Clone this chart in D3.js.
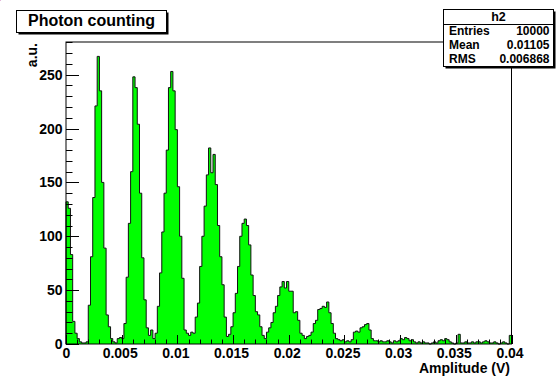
<!DOCTYPE html>
<html><head><meta charset="utf-8">
<script src="https://cdn.jsdelivr.net/npm/d3@7"></script>
<style>
body{margin:0;background:#fff;}
svg{display:block;}
text{font-family:"Liberation Sans",Arial,Helvetica,sans-serif;font-weight:bold;}
</style></head>
<body>
<script>
// ---- data ----
const xRange = [0, 0.04];
const nBins = 200;
const counts = [
132,126,83,21,10,5,2,1,1,2,
36,81,136,221,267,235,150,89,27,16,
5,2,1,5,6,5,19,62,112,160,
248,238,204,140,80,41,15,8,13,5,
10,35,66,104,140,180,238,253,235,199,
146,100,61,13,10,8,11,10,25,38,
72,100,128,157,182,159,176,148,110,81,
55,25,7,9,16,29,47,72,100,112,
116,110,92,64,45,30,27,16,8,5,
11,15,20,29,35,45,53,58,52,58,
49,49,29,30,22,10,8,5,7,8,
11,19,22,32,33,35,34,39,29,19,
10,5,4,3,4,2,3,2,4,11,
12,11,15,16,18,19,13,5,3,3,
2,3,2,2,3,2,1,3,2,3,
5,4,6,5,3,4,2,1,2,1,
2,1,1,0,1,2,1,3,4,3,
5,4,2,1,0,1,9,1,1,2,
1,1,2,1,2,2,1,2,3,2,
1,1,2,1,0,1,2,1,0,8
];
const yTicksMajor = [0, 50, 100, 150, 200, 250];
const xTicksMajor = [0, 0.005, 0.01, 0.015, 0.02, 0.025, 0.03, 0.035, 0.04];
const xTickLabels = ["0", "0.005", "0.01", "0.015", "0.02", "0.025", "0.03", "0.035", "0.04"];
const histTitle = "Photon counting";
const statsName = "h2";
const statsRows = [["Entries", "10000"], ["Mean", "0.01105"], ["RMS", "0.006868"]];
const xTitle = "Amplitude (V)";
const yTitle = "a.u.";

// ---- layout ----
const W = 556, H = 376;
const L = 66, R = 511.5, T = 42, B = 344;
const yMax = 280.35;

const svg = d3.select("body").append("svg").attr("width", W).attr("height", H);

// slide title remnants (clipped at top)
svg.append("text").attr("x", -4).attr("y", -6).attr("font-size", 34).attr("font-style", "italic")
  .attr("fill", "#d01818").text("y");
svg.append("text").attr("x", 333).attr("y", -7).attr("font-size", 34).attr("font-style", "italic")
  .attr("fill", "#d01818").text("g");

const x = d3.scaleLinear().domain(xRange).range([L, R]);
const y = d3.scaleLinear().domain([0, yMax]).range([B, T]);

const bw = (xRange[1] - xRange[0]) / nBins;
const pts = counts.map((c, i) => [xRange[0] + i * bw, c]);
pts.push([xRange[1], counts[counts.length - 1]]);

const area = d3.area().x(d => x(d[0])).y0(y(0)).y1(d => y(d[1])).curve(d3.curveStepAfter);
svg.append("path").attr("d", area(pts)).attr("fill", "#00ff00");

const linePts = [[xRange[0], 0]].concat(pts).concat([[xRange[1], 0]]);
const line = d3.line().x(d => x(d[0])).y(d => y(d[1])).curve(d3.curveStepAfter);
svg.append("path").attr("d", line(linePts)).attr("fill", "none").attr("stroke", "#111").attr("stroke-width", 1);

// frame
svg.append("rect").attr("x", L).attr("y", T).attr("width", R - L).attr("height", B - T)
  .attr("fill", "none").attr("stroke", "#000").attr("stroke-width", 1);

// y axis ticks
const yMinor = d3.range(0, yMax, 10);
svg.append("g").selectAll("line").data(yMinor).join("line")
  .attr("x1", L).attr("x2", d => L + (d % 50 === 0 ? 13 : 6.5))
  .attr("y1", d => Math.round(y(d)) + 0.5).attr("y2", d => Math.round(y(d)) + 0.5)
  .attr("stroke", "#000").attr("stroke-width", 1);
svg.append("g").selectAll("text").data(yTicksMajor).join("text")
  .attr("x", 62.5).attr("y", d => y(d) + 5).attr("text-anchor", "end").attr("font-size", 14)
  .text(d => d);

// x axis ticks
const xMinor = d3.range(0, 41).map(i => i * 0.001);
svg.append("g").selectAll("line").data(xMinor).join("line")
  .attr("x1", d => Math.round(x(d)) + 0.5).attr("x2", d => Math.round(x(d)) + 0.5)
  .attr("y1", B).attr("y2", (d, i) => B - (i % 5 === 0 ? 9 : 4.5))
  .attr("stroke", "#000").attr("stroke-width", 1);
svg.append("g").selectAll("text").data(xTicksMajor).join("text")
  .attr("x", d => x(d) - 1.5 + (d === 0 ? 2 : 0)).attr("y", 358).attr("text-anchor", "middle").attr("font-size", 14)
  .text((d, i) => xTickLabels[i]);

// axis titles
svg.append("text").attr("x", 510).attr("y", 373).attr("text-anchor", "end").attr("font-size", 14).text(xTitle);
svg.append("text").attr("transform", "translate(36.5,43) rotate(-90)").attr("text-anchor", "end")
  .attr("font-size", 14).text(yTitle);

// title box
function shadowBox(x0, y0, w, h) {
  svg.append("rect").attr("x", x0 + 2).attr("y", y0 + 2).attr("width", w).attr("height", h).attr("fill", "#000");
  svg.append("rect").attr("x", x0).attr("y", y0).attr("width", w).attr("height", h)
    .attr("fill", "#fff").attr("stroke", "#000").attr("stroke-width", 1);
}
shadowBox(16.5, 10.5, 150, 22);
svg.append("text").attr("x", 91.5).attr("y", 26).attr("text-anchor", "middle").attr("font-size", 16).text(histTitle);

// stats box
shadowBox(443.5, 9.5, 110, 57);
svg.append("line").attr("x1", 443.5).attr("x2", 553.5).attr("y1", 24.5).attr("y2", 24.5).attr("stroke", "#000");
svg.append("text").attr("x", 498.5).attr("y", 21).attr("text-anchor", "middle").attr("font-size", 12.5).text(statsName);
statsRows.forEach((r, i) => {
  const by = 35 + i * 14;
  svg.append("text").attr("x", 449).attr("y", by).attr("font-size", 12).text(r[0]);
  svg.append("text").attr("x", 549.5).attr("y", by).attr("text-anchor", "end").attr("font-size", 12).text(r[1]);
});
</script>
</body></html>
